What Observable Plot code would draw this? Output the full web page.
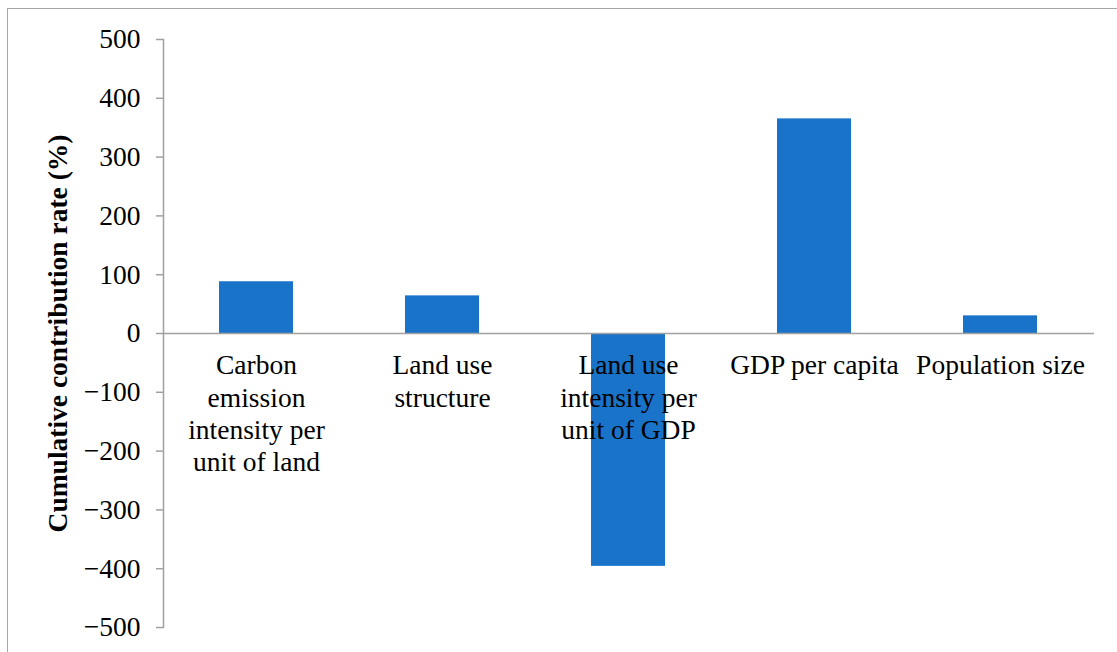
<!DOCTYPE html>
<html>
<head>
<meta charset="utf-8">
<script src="https://cdn.jsdelivr.net/npm/d3@7"></script>
<script src="https://cdn.jsdelivr.net/npm/@observablehq/plot@0.6"></script>
<style>
  html, body { margin: 0; padding: 0; background: #fff; overflow: hidden; }
  #wrap { position: relative; width: 1117px; height: 652px; }
  #border {
    position: absolute; left: 7px; top: 8px; width: 1200px; height: 700px;
    border: 1.5px solid #a6a6a6; box-sizing: border-box; pointer-events: none;
  }
  #chart { position: absolute; left: 0; top: 0; }
  #chart svg, #chart svg text { font-family: "Liberation Serif", "Times New Roman", serif !important; }
</style>
</head>
<body>
<div id="wrap">
  <div id="chart"></div>
  <div id="border"></div>
</div>
<script>
// Decomposition factors and their cumulative contribution rates (%)
const categories = [
  "Carbon emission intensity per unit of land",
  "Land use structure",
  "Land use intensity per unit of GDP",
  "GDP per capita",
  "Population size"
];
const categoryLabels = [
  "Carbon\nemission\nintensity per\nunit of land",
  "Land use\nstructure",
  "Land use\nintensity per\nunit of GDP",
  "GDP per capita",
  "Population size"
];
const contribution = [88, 64, -396, 365, 30];
const yTicks = [-500, -400, -300, -200, -100, 0, 100, 200, 300, 400, 500];
const yTitle = "Cumulative contribution rate (%)";

const data = categories.map((c, i) => ({category: c, label: categoryLabels[i], value: contribution[i]}));

const font = "Liberation Serif, Times New Roman, serif";
const fontSize = 27.5;
const axisGray = "#a0a0a0";
const barBlue = "#1873c9";

const chart = Plot.plot({
  width: 1117,
  height: 652,
  marginTop: 39,
  marginBottom: 25,
  marginLeft: 163,
  marginRight: 23,
  style: "font-family: 'Liberation Serif', serif; font-size: 27.5px; color: #000; background: transparent; overflow: visible;",
  x: {domain: categories, paddingInner: 0.6, paddingOuter: 0.3, axis: null},
  y: {domain: [-500, 500], axis: null},
  marks: [
    Plot.barY(data, {x: "category", y: "value", fill: barBlue}),
    Plot.ruleY([0], {stroke: axisGray, strokeWidth: 1.5}),
    Plot.frame({anchor: "left", stroke: axisGray, strokeWidth: 1.5}),
    Plot.axisY({
      ticks: yTicks,
      tickSize: 7,
      tickPadding: 16,
      stroke: axisGray,
      strokeWidth: 1.5,
      fill: "#000",
      fontSize,
      fontFamily: font,
      label: null,
      tickFormat: d => d < 0 ? "\u2212" + Math.abs(d) : String(d)
    }),
    Plot.text(data, {
      x: "category",
      y: 0,
      text: "label",
      lineAnchor: "top",
      lineHeight: 1.175,
      dy: 18,
      fill: "#000",
      fontSize,
      fontFamily: font
    }),
    Plot.text([yTitle], {
      frameAnchor: "left",
      textAnchor: "middle",
      rotate: -90,
      dx: -105,
      fontWeight: "bold",
      fontSize,
      fontFamily: font,
      fill: "#000"
    })
  ]
});

document.getElementById("chart").appendChild(chart);
</script>
</body>
</html>
